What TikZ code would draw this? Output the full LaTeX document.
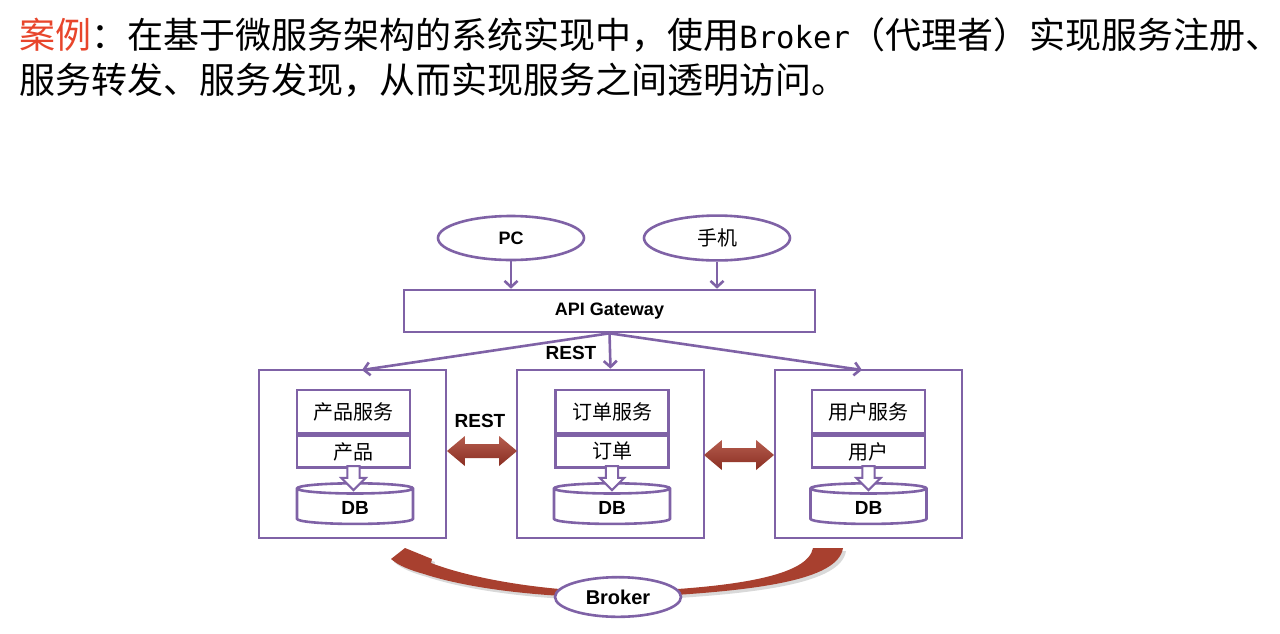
\documentclass[tikz,border=0pt]{standalone}
\usepackage{fontspec}
\setmainfont{Liberation Sans}
\newfontfamily\cjk{Noto Sans CJK SC}
\newfontfamily\monoft[Scale=0.85]{DejaVu Sans Mono}
\usepackage{tikz}
\usetikzlibrary{arrows.meta,shapes.geometric,shapes.arrows}

\definecolor{svcpurple}{HTML}{7F62A6}
\definecolor{linkred}{HTML}{A8402F}
\definecolor{linkdark}{HTML}{8A2E22}
\definecolor{casered}{HTML}{E8452B}

\tikzset{
  client/.style = {ellipse, draw = svcpurple, line width = 1.3pt, minimum width = 73pt, minimum height = 22pt, font = \bfseries\fontsize{9}{10}\selectfont},
  svcbox/.style = {rectangle, draw = svcpurple, line width = 1.3pt, minimum width = 93.5pt, minimum height = 84pt},
  namebox/.style = {rectangle, draw = svcpurple, line width = 1.3pt, minimum width = 56.5pt, minimum height = 21.5pt, font = \cjk\fontsize{10}{11}\selectfont},
  tablebox/.style = {rectangle, draw = svcpurple, line width = 1.3pt, minimum width = 56.5pt, minimum height = 15pt, font = \cjk\fontsize{10}{11}\selectfont},
  dbnode/.style = {cylinder, shape border rotate = 90, aspect = 0.25, draw = svcpurple, line width = 1.3pt, minimum width = 58pt, minimum height = 18pt, font = \bfseries\fontsize{9.5}{10}\selectfont},
  dbarrow/.style = {single arrow, shape border rotate = 270, draw = svcpurple, fill = white, line width = 1pt, minimum height = 12pt, minimum width = 12pt, single arrow head extend = 3pt, inner sep = 2.6pt},
  restlink/.style = {double arrow, top color = linkred!85!white, bottom color = linkdark, minimum height = 35pt, minimum width = 15pt, double arrow head extend = 4pt, double arrow tip angle = 80, inner sep = 3.3pt},
  arr/.style = {draw = svcpurple, line width = 1.3pt, -{Straight Barb[length = 3pt, width = 6.5pt]}},
  lbl/.style = {font = \bfseries\fontsize{9.5}{10}\selectfont}
}

\begin{document}
\begin{tikzpicture}[x = 0.5pt, y = -0.5pt]
  \useasboundingbox[fill = white] (0, 0) rectangle (1280, 633);

  % title
  \node[anchor = base west, inner sep = 0, font = \cjk\fontsize{18}{20}\selectfont] (title1) at (19, 48)
    {\textcolor{casered}{案例}：在基于微服务架构的系统实现中，使用{\monoft Broker}（代理者）实现服务注册、};
  \node[anchor = base west, inner sep = 0, font = \cjk\fontsize{18}{20}\selectfont] (title2) at (19, 93)
    {服务转发、服务发现，从而实现服务之间透明访问。};

  % clients and gateway
  \node[client] (pc) at (511, 238) {PC};
  \node[client, font = \cjk\fontsize{10}{11}\selectfont] (phone) at (717, 238) {手机};
  \node[rectangle, draw = svcpurple, line width = 1.3pt, minimum width = 205.5pt, minimum height = 21pt, font = \bfseries\fontsize{9}{10}\selectfont] (gw) at (609.5, 311) {API Gateway};

  \draw[arr] (pc) -- (pc |- gw.north);
  \draw[arr] (phone) -- (phone |- gw.north);

  % services
  \node[svcbox] (pbox) at (352.5, 454) {};
  \node[svcbox] (obox) at (610.5, 454) {};
  \node[svcbox] (ubox) at (868.5, 454) {};

  \draw[arr] (gw.south) -- (362, 370);
  \draw[arr] (gw.south) -- (obox.north);
  \draw[arr] (gw.south) -- (862, 370);
  \node[lbl] (rest1) at (571, 353) {REST};

  \node[namebox] (pname) at (353.5, 411.5) {产品服务};
  \node[tablebox, anchor = north] (ptab) at (pname.south) {产品};
  \node[namebox] (oname) at (612, 411.5) {订单服务};
  \node[tablebox, anchor = north] (otab) at (oname.south) {订单};
  \node[namebox] (uname) at (868.5, 411.5) {用户服务};
  \node[tablebox, anchor = north] (utab) at (uname.south) {用户};

  \node[dbnode] (pdb) at (355, 508) {DB};
  \node[dbnode] (odb) at (612, 508) {DB};
  \node[dbnode] (udb) at (868.5, 508) {DB};

  \node[dbarrow] (parr) at (353.5, 475) {};
  \node[dbarrow] (oarr) at (612, 475) {};
  \node[dbarrow] (uarr) at (868.5, 475) {};

  % links between services
  \node[restlink] (link1) at (482, 451) {};
  \node[lbl] (rest2) at (480, 421) {REST};
  \node[restlink] (link2) at (739, 455) {};

  % broker
  \fill[black!15, xshift = 1.5pt, yshift = -1.5pt]
    (843, 548) .. controls (838, 580) and (760, 592) .. (618, 598)
    .. controls (540, 597) and (470, 589) .. (424, 574)
    .. controls (410, 570) and (399, 566) .. (391, 559) -- (405, 548) -- (432, 559) -- (431, 563)
    .. controls (470, 578) and (540, 591) .. (618, 592)
    .. controls (740, 588) and (808, 575) .. (813, 548) -- cycle;
  \fill[linkred]
    (843, 548) .. controls (838, 580) and (760, 592) .. (618, 598)
    .. controls (540, 597) and (470, 589) .. (424, 574)
    .. controls (410, 570) and (399, 566) .. (391, 559) -- (405, 548) -- (432, 559) -- (431, 563)
    .. controls (470, 578) and (540, 591) .. (618, 592)
    .. controls (740, 588) and (808, 575) .. (813, 548) -- cycle;
  \node[client, fill = white, minimum width = 63pt, minimum height = 19pt, font = \bfseries\fontsize{10}{11}\selectfont] (broker) at (618, 597) {Broker};
\end{tikzpicture}
\end{document}
